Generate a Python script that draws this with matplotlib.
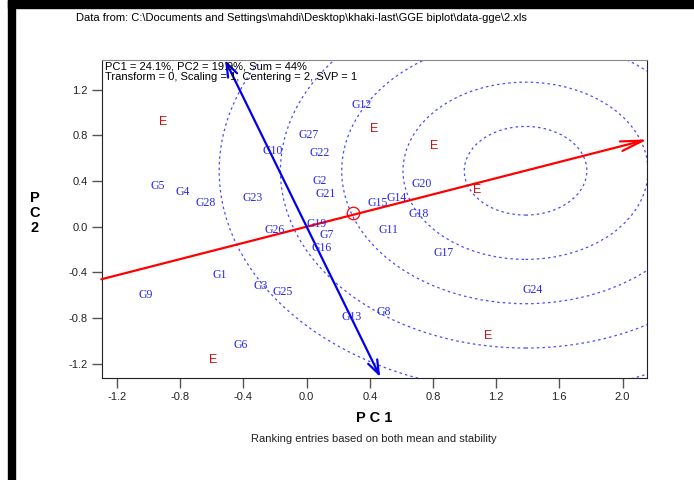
import numpy as np
import matplotlib.pyplot as plt
from matplotlib.patches import Circle, Rectangle

# --- genotype scores (PC1, PC2) ---
genotypes = ["G1", "G2", "G3", "G4", "G5", "G6", "G7", "G8", "G9", "G10",
             "G11", "G12", "G13", "G15", "G14", "G16", "G17", "G18", "G19", "G20",
             "G21", "G22", "G23", "G24", "G25", "G26", "G27", "G28"]
g_pc1 = [-0.55, 0.085, -0.29, -0.785, -0.94, -0.42, 0.125, 0.485, -1.02, -0.215,
         0.52, 0.35, 0.285, 0.45, 0.57, 0.095, 0.865, 0.71, 0.06, 0.73,
         0.12, 0.08, -0.34, 1.43, -0.15, -0.20, 0.01, -0.64]
g_pc2 = [-0.42, 0.40, -0.52, 0.30, 0.36, -1.035, -0.075, -0.75, -0.60, 0.66,
         -0.03, 1.07, -0.79, 0.21, 0.25, -0.185, -0.23, 0.11, 0.02, 0.37,
         0.29, 0.65, 0.25, -0.55, -0.57, -0.03, 0.80, 0.205]

# --- environment scores ---
env_pc1 = [-0.91, 0.43, 0.81, 1.08, 1.15, -0.59]
env_pc2 = [0.92, 0.855, 0.71, 0.32, -0.96, -1.17]

# --- average environment axis, ideal entry, rings ---
aea_start = (-1.30, -0.46)
aea_end = (2.16, 0.765)
atc_top = (-0.517, 1.46)
atc_bottom = (0.466, -1.316)
avg_env = (0.295, 0.117)
ideal = (1.386, 0.49)
ring_radii = [0.388, 0.776, 1.164, 1.552, 1.94]

header = "Data from: C:\\Documents and Settings\\mahdi\\Desktop\\khaki-last\\GGE biplot\\data-gge\\2.xls"
info = "PC1 = 24.1%, PC2 = 19.9%, Sum = 44%\nTransform = 0, Scaling = 1, Centering = 2, SVP = 1"

fig = plt.figure(figsize=(6.94, 4.8), dpi=100)
fig.patch.set_facecolor("white")

# black frame pieces of the screenshot
fig.add_artist(Rectangle((8 / 694, 0), 7 / 694, 1, transform=fig.transFigure,
                         color="black", zorder=0))
fig.add_artist(Rectangle((8 / 694, 1 - 8 / 480), 1, 8 / 480, transform=fig.transFigure,
                         color="black", zorder=0))

ax = fig.add_axes([0.1465, 0.2119, 0.7853, 0.6631])

# concentric rings round the ideal entry
for r in ring_radii:
    ax.add_patch(Circle(ideal, r, fill=False, ls=(0, (2, 2.5)), lw=0.9,
                        color="#4a4aff", zorder=1))

# average environment axis (red) and its ordinate (blue)
ax.annotate("", xy=aea_end, xytext=aea_start,
            arrowprops=dict(arrowstyle="->,head_length=1.0,head_width=0.22",
                            color="red", lw=1.6, shrinkA=0, shrinkB=0,
                            mutation_scale=16),
            annotation_clip=False, zorder=3)
ax.annotate("", xy=atc_top, xytext=atc_bottom,
            arrowprops=dict(arrowstyle="<->,head_length=1.0,head_width=0.36",
                            color="#0000ee", lw=1.6, shrinkA=0, shrinkB=0,
                            mutation_scale=10),
            annotation_clip=False, zorder=3)
ax.plot(*avg_env, marker="o", ms=9, mfc="none", mec="red", mew=0.9, zorder=4)

for name, x, y in zip(genotypes, g_pc1, g_pc2):
    ax.text(x, y, name, color="#2828ee", fontsize=8.5, family="Liberation Serif",
            ha="center", va="center", zorder=5)
for x, y in zip(env_pc1, env_pc2):
    ax.text(x, y, "E", color="#cc1010", fontsize=9, family="Liberation Sans",
            ha="center", va="center", zorder=5)

ax.text(0.006, 0.995, info, transform=ax.transAxes, fontsize=8,
        family="Liberation Sans", ha="left", va="top", linespacing=1.05, zorder=6)

ax.set_xlim(-1.298, 2.153)
ax.set_ylim(-1.327, 1.46)
ax.set_xticks([-1.2, -0.8, -0.4, 0.0, 0.4, 0.8, 1.2, 1.6, 2.0])
ax.set_yticks([-1.2, -0.8, -0.4, 0.0, 0.4, 0.8, 1.2])
ax.xaxis.set_major_formatter(plt.FormatStrFormatter("%.1f"))
ax.yaxis.set_major_formatter(plt.FormatStrFormatter("%.1f"))
ax.tick_params(direction="out", length=7, width=1, color="#555555",
               labelsize=8, labelcolor="#222222", pad=3)
for lab in ax.get_xticklabels() + ax.get_yticklabels():
    lab.set_family("Liberation Sans")
for side in ["left", "bottom", "right"]:
    ax.spines[side].set_color("#222222")
ax.spines["top"].set_color("#888888")

fig.text(76 / 694, 1 - 18 / 480, header, fontsize=8, family="Liberation Sans",
         ha="left", va="center")
fig.text(374 / 694, 1 - 418 / 480, "P C 1", fontsize=10.5, fontweight="bold",
         family="Liberation Sans", ha="center", va="center")
fig.text(35 / 694, 1 - 213 / 480, "P\nC\n2", fontsize=10.5, fontweight="bold",
         family="Liberation Sans", ha="center", va="center", linespacing=1.05)
fig.text(374 / 694, 1 - 439 / 480, "Ranking entries based on both mean and stability",
         fontsize=8, family="Liberation Sans", ha="center", va="center", color="#222222")

fig.savefig("out.png", dpi=100)
